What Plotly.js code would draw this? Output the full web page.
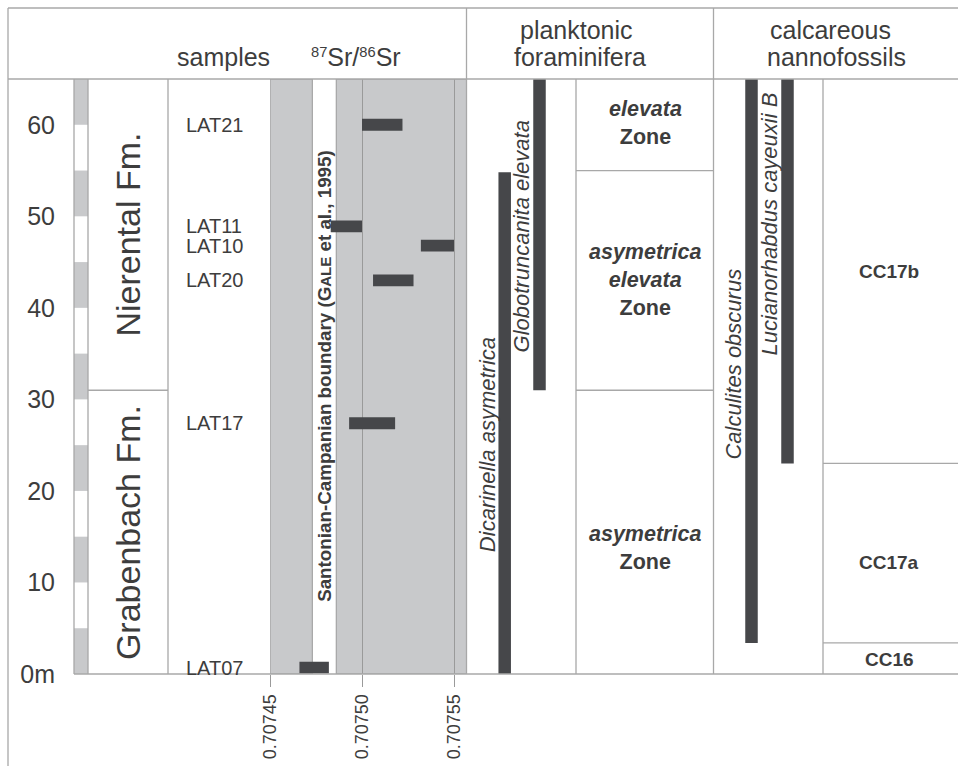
<!DOCTYPE html>
<html>
<head>
<meta charset="utf-8">
<script src="https://cdn.plot.ly/plotly-3.0.1.min.js"></script>
<style>
  html, body { margin: 0; padding: 0; background: #ffffff; }
  #chart { width: 958px; height: 766px; }
</style>
</head>
<body>
<div id="chart"></div>
<script>
// ---------------- DATA ----------------
const depthTicks = [0, 10, 20, 30, 40, 50, 60];
const depthTickText = ["0m", "10", "20", "30", "40", "50", "60"];

// lithology column: grey blocks (m)
const lithoBase = [0, 10, 20, 30, 40, 50, 60];
const lithoTop  = [5, 15, 25, 35, 45, 55, 65];

// formations
const formations = ["Grabenbach Fm.", "Nierental Fm."];
const fmBase = [0, 31];
const fmTop  = [31, 65];

// samples and 87Sr/86Sr ranges
const samples     = ["LAT07", "LAT17", "LAT20", "LAT10", "LAT11", "LAT21"];
const sampleDepth = [0.7, 27.4, 43.0, 46.8, 48.9, 60.0];
const srLow  = [0.707466, 0.707493, 0.707506, 0.707532, 0.707483, 0.707500];
const srHigh = [0.707482, 0.707518, 0.707528, 0.707550, 0.707500, 0.707522];
const srTicks = [0.70745, 0.70750, 0.70755];
const boundaryLow  = 0.707473;   // Santonian-Campanian boundary (Gale et al., 1995)
const boundaryHigh = 0.707486;

// planktonic foraminifera
const foramTaxa = ["Dicarinella asymetrica", "Globotruncanita elevata"];
const foramBase = [0, 31];
const foramTop  = [54.8, 65];
const foramZones    = ["asymetrica", "asymetrica elevata", "elevata"];
const foramZoneBase = [0, 31, 55];
const foramZoneTop  = [31, 55, 65];

// calcareous nannofossils
const nannoTaxa = ["Calculites obscurus", "Lucianorhabdus cayeuxii B"];
const nannoBase = [3.4, 23.0];
const nannoTop  = [65, 65];
const nannoZones    = ["CC16", "CC17a", "CC17b"];
const nannoZoneBase = [0, 3.4, 23];
const nannoZoneTop  = [3.4, 23, 65];

// ---------------- LAYOUT HELPERS ----------------
const W = 958, H = 766;
const px = x => x / W;
const py = y => 1 - y / H;
const FONT = "Liberation Sans, Arial, Helvetica, sans-serif";
const C = { line: "#a8a8a8", grid: "#9a9a9a", gray: "#c8c9cb", dark: "#46474a", text: "#3d3d3d" };
const srMin = 0.70745, srMax = 0.70745 + (466.5 - 270) / 92 * 0.00005;
const Y0 = 674, Y1 = 79;

// ---------------- TRACES ----------------
const traces = [];
// lithology blocks
traces.push({
  type: "bar", orientation: "h", xaxis: "x", yaxis: "y",
  y: lithoBase.map((b, i) => (b + lithoTop[i]) / 2),
  x: lithoBase.map(() => 1), base: lithoBase.map(() => 0),
  width: lithoBase.map((b, i) => lithoTop[i] - b),
  marker: { color: C.gray, line: { width: 0 } }, showlegend: false, hoverinfo: "skip"
});
// Sr ranges
traces.push({
  type: "bar", orientation: "h", xaxis: "x2", yaxis: "y",
  y: sampleDepth, base: srLow, x: srHigh.map((h, i) => h - srLow[i]),
  width: sampleDepth.map(() => 1.3),
  marker: { color: C.dark, line: { width: 0 } }, showlegend: false, hoverinfo: "skip"
});
// foram ranges
const foramPos = [38.2, 73];
traces.push({
  type: "bar", xaxis: "x3", yaxis: "y",
  x: foramPos, base: foramBase, y: foramTop.map((t, i) => t - foramBase[i]),
  width: foramPos.map(() => 12.5),
  marker: { color: C.dark, line: { width: 0 } }, showlegend: false, hoverinfo: "skip"
});
// nanno ranges
const nannoPos = [38, 74];
traces.push({
  type: "bar", xaxis: "x4", yaxis: "y",
  x: nannoPos, base: nannoBase, y: nannoTop.map((t, i) => t - nannoBase[i]),
  width: nannoPos.map(() => 12.5),
  marker: { color: C.dark, line: { width: 0 } }, showlegend: false, hoverinfo: "skip"
});

// ---------------- SHAPES ----------------
const shapes = [];
function pline(x0, y0, x1, y1, color) {
  shapes.push({ type: "line", xref: "paper", yref: "paper", x0: px(x0), x1: px(x1), y0: py(y0), y1: py(y1),
    line: { color: color || C.line, width: 1.3 }, layer: "above" });
}
function hline(x0, x1, depth) {
  shapes.push({ type: "line", xref: "paper", yref: "y", x0: px(x0), x1: px(x1), y0: depth, y1: depth,
    line: { color: C.line, width: 1.3 }, layer: "above" });
}
// grey Sr panel with the white boundary band
shapes.push({ type: "rect", xref: "x2", yref: "y", x0: srMin, x1: boundaryLow, y0: 0, y1: 65,
  fillcolor: C.gray, line: { color: C.grid, width: 1 }, layer: "below" });
shapes.push({ type: "rect", xref: "x2", yref: "y", x0: boundaryHigh, x1: srMax, y0: 0, y1: 65,
  fillcolor: C.gray, line: { color: C.grid, width: 1 }, layer: "below" });

// frame
pline(8, 8, W, 8);
pline(8, 8, 8, H);
pline(8, Y1, W, Y1);
pline(466.5, 8, 466.5, Y0);
pline(713.5, 8, 713.5, Y0);
pline(74, Y0, W, Y0);
pline(74, Y1, 74, Y0);
pline(88, Y1, 88, Y0);
pline(168, Y1, 168, Y0);
pline(576, Y1, 576, Y0);
pline(823, Y1, 823, Y0);
// formation boundaries
fmBase.forEach(b => { if (b > 0) hline(88, 168, b); });
// zone boundaries
foramZoneBase.forEach(b => { if (b > 0) hline(576, 713.5, b); });
nannoZoneBase.forEach(b => { if (b > 0) hline(823, W, b); });

// ---------------- ANNOTATIONS ----------------
const ann = [];
function note(text, x, y, size, opts) {
  ann.push(Object.assign({
    text: text, xref: "paper", yref: "paper", x: px(x), y: py(y),
    xanchor: "center", yanchor: "middle", showarrow: false,
    font: { family: FONT, size: size, color: C.text }
  }, opts || {}));
}
// header
note("<span style='font-size:21px'><sup>87</sup></span>Sr/<span style='font-size:21px'><sup>86</sup></span>Sr", 356, 57, 25);
note("samples", 223, 57, 25);
note("planktonic", 576, 30, 25);
note("foraminifera", 580, 57, 25);
note("calcareous", 830, 30, 25);
note("nannofossils", 836, 57, 25);

// formations
formations.forEach((f, i) => {
  ann.push({ text: f, xref: "paper", yref: "y", x: px(128), y: (fmBase[i] + fmTop[i]) / 2,
    textangle: -90, showarrow: false, xanchor: "center", yanchor: "middle",
    font: { family: FONT, size: 34, color: C.text } });
});
// sample labels
samples.forEach((s, i) => {
  ann.push({ text: s, xref: "paper", yref: "y", x: px(184), y: sampleDepth[i],
    xanchor: "left", yanchor: "middle", showarrow: false,
    font: { family: FONT, size: 20, color: C.text } });
});
// boundary label
ann.push({ text: "<b>Santonian-Campanian boundary (G<span style='font-size:15px'>ALE</span> et al., 1995)</b>",
  xref: "x2", yref: "y", x: (boundaryLow + boundaryHigh) / 2, y: 32.6, textangle: -90,
  showarrow: false, xanchor: "center", yanchor: "middle",
  font: { family: FONT, size: 18.8, color: C.text } });
// taxa labels
const foramLabelPos = [[487, 25.0], [521, 47.8]];
foramTaxa.forEach((t, i) => {
  ann.push({ text: "<i>" + t + "</i>", xref: "paper", yref: "y", x: px(foramLabelPos[i][0]), y: foramLabelPos[i][1],
    textangle: -90, showarrow: false, xanchor: "center", yanchor: "middle",
    font: { family: FONT, size: 22, color: C.text } });
});
const nannoLabelPos = [[734, 33.8], [770, 49.1]];
nannoTaxa.forEach((t, i) => {
  ann.push({ text: "<i>" + t + "</i>", xref: "paper", yref: "y", x: px(nannoLabelPos[i][0]), y: nannoLabelPos[i][1],
    textangle: -90, showarrow: false, xanchor: "center", yanchor: "middle",
    font: { family: FONT, size: 22, color: C.text } });
});
// zone labels
const foramZoneLabelY = [13.8, 43, 60.2];
foramZones.forEach((z, i) => {
  const words = z.split(" ").map(w => "<b><i>" + w + "</i></b>");
  ann.push({ text: words.join("<br>") + "<br><b>Zone</b>", xref: "paper", yref: "y",
    x: px(645), y: foramZoneLabelY[i], showarrow: false, xanchor: "center", yanchor: "middle",
    font: { family: FONT, size: 21.5, color: C.text } });
});
const nannoZoneLabelY = [1.6, 12.2, 44];
nannoZones.forEach((z, i) => {
  ann.push({ text: "<b>" + z + "</b>", xref: "paper", yref: "y",
    x: px(889), y: nannoZoneLabelY[i], showarrow: false, xanchor: "center", yanchor: "middle",
    font: { family: FONT, size: 19, color: C.text } });
});

// ---------------- LAYOUT ----------------
const hidden = { showgrid: false, zeroline: false, showline: false, showticklabels: false, ticks: "", fixedrange: true };
const layout = {
  width: W, height: H,
  margin: { l: 0, r: 0, t: 0, b: 0, pad: 0 },
  paper_bgcolor: "#ffffff", plot_bgcolor: "rgba(0,0,0,0)",
  barmode: "overlay", showlegend: false, hovermode: false,
  font: { family: FONT, color: C.text },
  yaxis: {
    domain: [py(Y0), py(Y1)], range: [0, 65], anchor: "x",
    tickvals: depthTicks, ticktext: depthTickText,
    showgrid: false, zeroline: false, showline: false, ticks: "",
    ticklabelstandoff: 18, tickfont: { family: FONT, size: 25, color: C.text }, fixedrange: true
  },
  xaxis:  Object.assign({ domain: [px(74), px(88)], range: [0, 1], anchor: "y" }, hidden),
  xaxis2: {
    domain: [px(270), px(466.5)], range: [srMin, srMax], anchor: "y",
    tickvals: srTicks, tickformat: ".5f", tickangle: -90,
    ticks: "outside", ticklen: 12, tickcolor: C.grid, tickwidth: 1,
    showgrid: true, gridcolor: C.grid, gridwidth: 1,
    zeroline: false, showline: false, fixedrange: true,
    tickfont: { family: FONT, size: 18, color: C.text }
  },
  xaxis3: Object.assign({ domain: [px(466.5), px(576)], range: [0, 109.5], anchor: "y" }, hidden),
  xaxis4: Object.assign({ domain: [px(713.5), px(823)], range: [0, 109.5], anchor: "y" }, hidden),
  shapes: shapes,
  annotations: ann
};

Plotly.newPlot("chart", traces, layout, { displayModeBar: false, staticPlot: true });
</script>
</body>
</html>
